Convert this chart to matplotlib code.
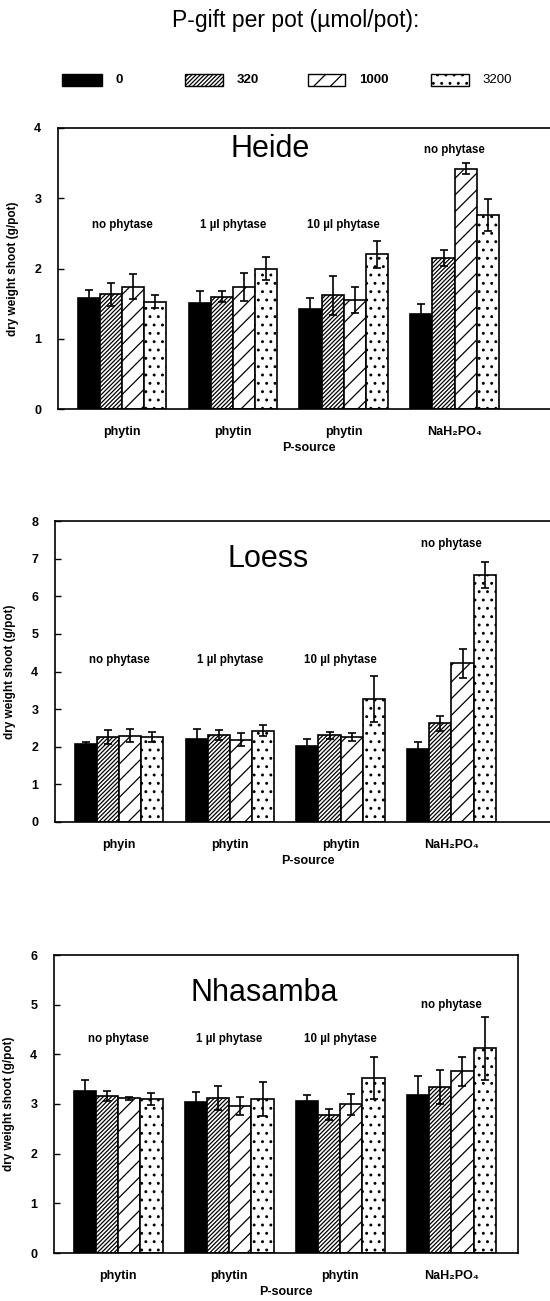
import matplotlib
matplotlib.use("Agg")
import matplotlib.pyplot as plt
from matplotlib.patches import Rectangle
import numpy as np

plt.rcParams['font.family'] = ['Liberation Sans', 'DejaVu Sans']
plt.rcParams['hatch.linewidth'] = 0.9

# ---- data ----
p_sources = ["phytin", "phytin", "phytin", "NaH₂PO₄"]
p_sources_loess = ["phyin", "phytin", "phytin", "NaH₂PO₄"]
treatments = ["no phytase", "1 µl phytase", "10 µl phytase", "no phytase"]
doses = ["0", "320", "1000", "3200"]

heide_0 = [1.58, 1.51, 1.42, 1.35]
heide_320 = [1.63, 1.60, 1.62, 2.15]
heide_1000 = [1.74, 1.74, 1.55, 3.42]
heide_3200 = [1.53, 2.00, 2.20, 2.76]
heide_err_0 = [0.12, 0.17, 0.16, 0.14]
heide_err_320 = [0.16, 0.08, 0.28, 0.11]
heide_err_1000 = [0.18, 0.20, 0.19, 0.08]
heide_err_3200 = [0.09, 0.16, 0.19, 0.23]

loess_0 = [2.06, 2.21, 2.03, 1.94]
loess_320 = [2.26, 2.31, 2.30, 2.62]
loess_1000 = [2.29, 2.19, 2.26, 4.22]
loess_3200 = [2.26, 2.43, 3.26, 6.57]
loess_err_0 = [0.07, 0.25, 0.17, 0.18]
loess_err_320 = [0.19, 0.13, 0.10, 0.21]
loess_err_1000 = [0.17, 0.17, 0.11, 0.39]
loess_err_3200 = [0.14, 0.14, 0.61, 0.35]

nhas_0 = [3.27, 3.04, 3.06, 3.18]
nhas_320 = [3.16, 3.12, 2.78, 3.34]
nhas_1000 = [3.12, 2.96, 2.99, 3.66]
nhas_3200 = [3.10, 3.10, 3.53, 4.12]
nhas_err_0 = [0.22, 0.21, 0.13, 0.39]
nhas_err_320 = [0.10, 0.24, 0.11, 0.35]
nhas_err_1000 = [0.03, 0.19, 0.22, 0.29]
nhas_err_3200 = [0.12, 0.35, 0.42, 0.63]

# ---- styles ----
styles = [dict(facecolor="black", hatch=None),
          dict(facecolor="white", hatch="////////"),
          dict(facecolor="white", hatch="//"),
          dict(facecolor="white", hatch="..")]

W, H = 550, 1301
fig = plt.figure(figsize=(W / 100, H / 100), dpi=100)


def px_axes(left, top, right, bottom):
    return fig.add_axes([left / W, 1 - bottom / H, (right - left) / W, (bottom - top) / H])


fig.text(296 / W, 1 - 21 / H, "P-gift per pot (µmol/pot):", ha="center", va="center",
         fontsize=16.5)

# legend
leg_pos = [(62, 102, 116), (185, 223, 237), (308, 345, 359), (431, 469, 482)]
for (x0, x1, xt), st, lab in zip(leg_pos, styles, doses):
    r = Rectangle((x0 / W, 1 - 86 / H), (x1 - x0) / W, 12 / H, transform=fig.transFigure,
                  facecolor=st["facecolor"], hatch=st["hatch"], edgecolor="black", lw=1.0)
    fig.patches.append(r)
    fig.text(xt / W, 1 - 80 / H, lab, ha="left", va="center", fontsize=9.5,
             fontweight="bold" if lab != "3200" else "normal")

panels = [
    dict(name="Heide", box=(58, 128, 560, 409), xlim=(-0.577, 3.95), ylim=4,
         vals=[heide_0, heide_320, heide_1000, heide_3200],
         errs=[heide_err_0, heide_err_320, heide_err_1000, heide_err_3200],
         ann_y=2.62, ann4_y=3.68, title_xy=(1.34, 3.7), labels=p_sources),
    dict(name="Loess", box=(55, 521, 560, 822), xlim=(-0.578, 3.98), ylim=8,
         vals=[loess_0, loess_320, loess_1000, loess_3200],
         errs=[loess_err_0, loess_err_320, loess_err_1000, loess_err_3200],
         ann_y=4.3, ann4_y=7.38, title_xy=(1.35, 7.0), labels=p_sources_loess),
    dict(name="Nhasamba", box=(54, 955, 518, 1253), xlim=(-0.577, 3.6), ylim=6,
         vals=[nhas_0, nhas_320, nhas_1000, nhas_3200],
         errs=[nhas_err_0, nhas_err_320, nhas_err_1000, nhas_err_3200],
         ann_y=4.3, ann4_y=5.0, title_xy=(1.32, 5.23), labels=p_sources),
]

bw = 0.2
x = np.arange(4)
for p in panels:
    ax = px_axes(*p["box"])
    for i, (v, e, st) in enumerate(zip(p["vals"], p["errs"], styles)):
        xi = x + (i - 1.5) * bw
        ax.bar(xi, v, width=bw, facecolor=st["facecolor"], hatch=st["hatch"],
               edgecolor="black", linewidth=1.2, zorder=2)
        ax.errorbar(xi, v, yerr=e, fmt="none", ecolor="black", elinewidth=1.2,
                    capsize=3, capthick=1.2, zorder=3)
    ax.set_xlim(*p["xlim"])
    ax.set_ylim(0, p["ylim"])
    ax.set_yticks(range(0, p["ylim"] + 1))
    ax.set_xticks(x)
    ax.set_xticklabels(p["labels"], fontsize=9, fontweight="bold")
    ax.tick_params(axis="x", length=0, pad=12)
    ax.tick_params(axis="y", direction="in", length=4, width=1, labelsize=9, pad=12)
    for lbl in ax.get_yticklabels():
        lbl.set_fontweight("bold")
    for s in ax.spines.values():
        s.set_linewidth(1.2)
    ax.set_ylabel("dry weight shoot (g/pot)", fontsize=8.5, fontweight="bold", labelpad=11)
    ax.set_xlabel("P-source", fontsize=9, fontweight="bold", labelpad=3)
    for k in range(3):
        ax.text(x[k], p["ann_y"], treatments[k], ha="center", va="center", fontsize=8.3,
                fontweight="bold")
    ax.text(x[3], p["ann4_y"], treatments[3], ha="center", va="center", fontsize=8.3,
            fontweight="bold")
    ax.text(p["title_xy"][0], p["title_xy"][1], p["name"], ha="center", va="center",
            fontsize=22)

fig.savefig("out.png", dpi=100)
